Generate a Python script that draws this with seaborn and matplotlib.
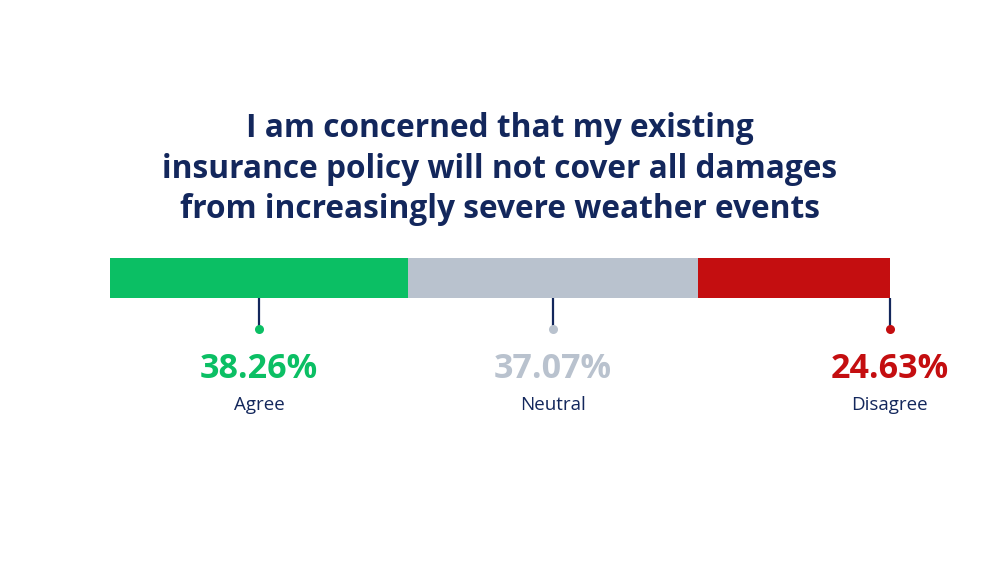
import matplotlib
matplotlib.use("Agg")
import matplotlib.pyplot as plt
import seaborn as sns
import pandas as pd
import numpy as np

# ---- data ----
title = "I am concerned that my existing\ninsurance policy will not cover all damages\nfrom increasingly severe weather events"
categories = ["Agree", "Neutral", "Disagree"]
values = [38.26, 37.07, 24.63]
colors = ["#0bbf64", "#b9c2ce", "#c40e10"]
pct_colors = ["#0bbf64", "#b9c2ce", "#c40e10"]
navy = "#13275c"

sns.set_theme(style="white")
plt.rcParams['font.family'] = ['Open Sans', 'DejaVu Sans']

W, H = 1000, 563
fig = plt.figure(figsize=(10, 5.63), dpi=100)
fig.patch.set_facecolor("white")

# bar axes (pixel box 110..890 x 258..298)
bx0, bx1, by0, by1 = 110, 890, 258, 298
axb = fig.add_axes([bx0 / W, 1 - by1 / H, (bx1 - bx0) / W, (by1 - by0) / H])
cum = np.cumsum(values)
for i in reversed(range(len(values))):
    sns.barplot(x=[cum[i]], y=["q"], orient="h", color=colors[i], width=1.0,
                saturation=1, ax=axb, edgecolor="none", linewidth=0)
axb.set_xlim(0, 100)
axb.set_ylim(0.5, -0.5)
axb.axis("off")

# overlay axes: full figure, x in percent, y in pixels
ax = fig.add_axes([0, 0, 1, 1])
scale = (bx1 - bx0) / 100.0
ax.set_xlim(-bx0 / scale, (W - bx0) / scale)
ax.set_ylim(H, 0)
ax.axis("off")

ax.text(50, 169, title, ha="center", va="center", fontsize=22.8, fontweight="bold",
        color=navy, linespacing=1.3)

starts = np.concatenate([[0], cum[:-1]])
anchor_frac = [0.5, 0.5, 1.0]
for i, cat in enumerate(categories):
    xa = starts[i] + values[i] * anchor_frac[i]
    ax.plot([xa, xa], [by1, 329], color=navy, lw=1.6, solid_capstyle="butt")
    ax.plot([xa], [329], marker="o", ms=6.5, color=colors[i], mec="none")
    ax.text(xa, 369, f"{values[i]:.2f}%", ha="center", va="center", fontsize=24.5,
            fontweight="bold", color=pct_colors[i])
    ax.text(xa, 405, cat, ha="center", va="center", fontsize=13.5, color=navy)

fig.savefig("out.png", dpi=100, facecolor="white")
